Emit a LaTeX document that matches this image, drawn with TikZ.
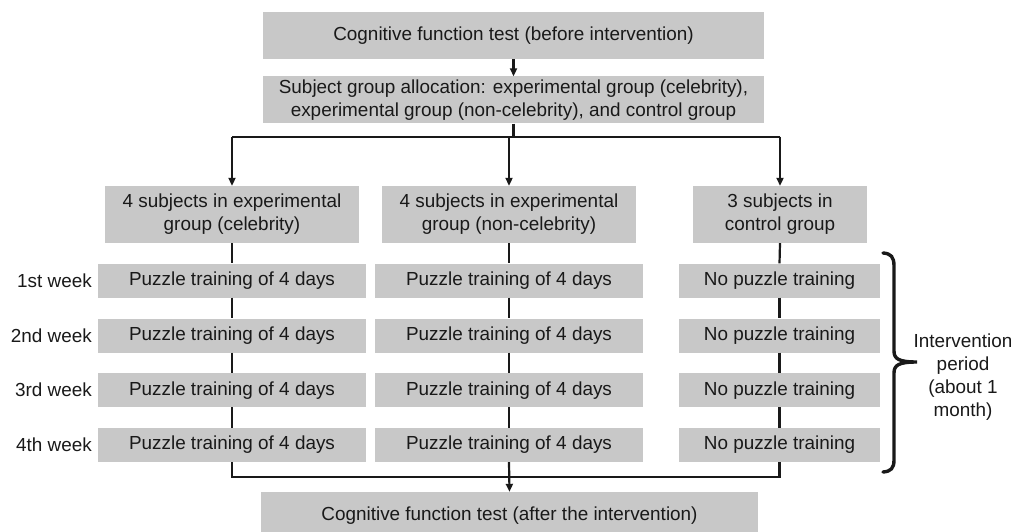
\documentclass[tikz,border=0pt]{standalone}
\usepackage{fontspec}
\setmainfont{Liberation Sans}
\usetikzlibrary{arrows.meta}
\definecolor{boxgray}{RGB}{200,200,200}
\definecolor{ink}{RGB}{25,25,25}
\begin{document}
\begin{tikzpicture}[x=1pt,y=-1pt,
  font=\fontsize{18.9}{23}\selectfont,
  box/.style={fill=boxgray, text=ink, inner sep=0pt, align=center},
  wide/.style={box, minimum width=501pt, minimum height=47pt},
  grp/.style={box, minimum width=254pt, minimum height=57pt},
  row/.style={box, minimum width=268pt, minimum height=34pt},
  nrow/.style={box, minimum width=201pt, minimum height=34pt},
  week/.style={anchor=east, text=ink, inner sep=0pt},
  conn/.style={draw=ink, line width=2.2pt},
  arr/.style={conn, -{Triangle[length=8pt,width=7pt]}}]
\useasboundingbox (0,0) rectangle (1011,532);

\node[wide] (pre) at (513.5,35.5) {Cognitive function test (before intervention)};
\node[wide] (alloc) at (513.5,100) {Subject group allocation: experimental group (celebrity),\\experimental group (non-celebrity), and control group};

\node[grp] (gA) at (232,214.5) {4 subjects in experimental\\group (celebrity)};
\node[grp] (gB) at (509,214.5) {4 subjects in experimental\\group (non-celebrity)};
\node[grp, minimum width=174pt] (gC) at (780,214.5) {3 subjects in\\control group};

\foreach \k/\y/\w in {1/280.5/1st week,2/335.5/2nd week,3/390.2/3rd week,4/445/4th week}{
  \node[week] (w\k) at (92,\y) {\w};
  \node[row] (pA\k) at (232,\y) {Puzzle training of 4 days};
  \node[row] (pB\k) at (509,\y) {Puzzle training of 4 days};
  \node[nrow] (pC\k) at (779.5,\y) {No puzzle training};
}

\node[wide, minimum width=497pt] (post) at (509.5,515.5) {Cognitive function test (after the intervention)};

\node[text=ink, align=center, inner sep=0pt] (lbl) at (963,377.5) {Intervention\\period\\(about 1\\month)};

% connectors
\draw[arr] (pre.south) -- (alloc.north);
\draw[conn] (alloc.south) -- ++(0,13) coordinate (s);
\draw[conn] (gA.north |- s) -- (gC.north |- s);
\draw[arr] (gA.north |- s) -- (gA.north);
\draw[arr] (gB.north |- s) -- (gB.north);
\draw[arr] (gC.north |- s) -- (gC.north);

\foreach \c in {A,B,C}{
  \draw[conn] (g\c.south) -- (p\c1.north);
  \draw[conn] (p\c1.south) -- (p\c2.north);
  \draw[conn] (p\c2.south) -- (p\c3.north);
  \draw[conn] (p\c3.south) -- (p\c4.north);
}
\coordinate (j) at (509,477);
\draw[conn] (pA4.south) |- (j) -| (pC4.south);
\draw[arr] (pB4.south) -- (post.north);

% brace
\draw[draw=ink, line width=3.4pt, line cap=round]
  (883,253) .. controls (891,253.5) and (894,257) .. (894,266)
  -- (894,351) .. controls (894,359) and (899,362) .. (917,362)
  .. controls (899,362) and (894,365) .. (894,373)
  -- (894,460) .. controls (894,468) and (891,471.5) .. (883,472);
\end{tikzpicture}
\end{document}
